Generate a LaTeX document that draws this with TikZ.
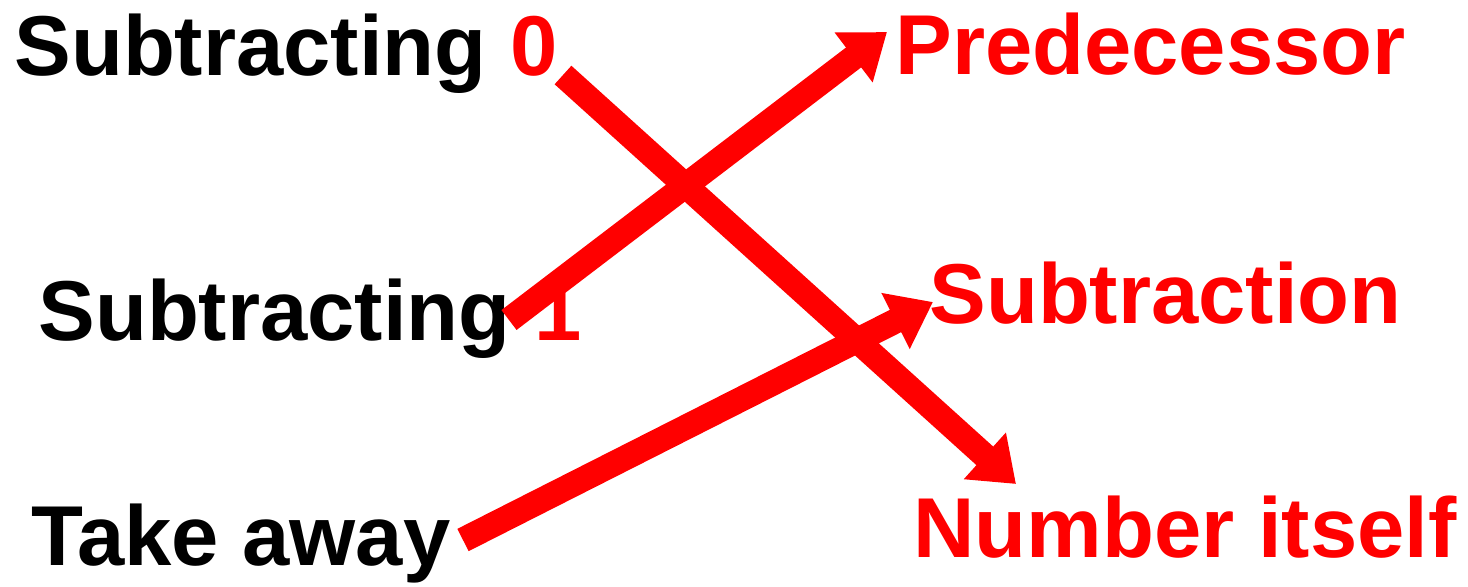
\documentclass[tikz,border=0pt]{standalone}
\usepackage{fontspec}
\setmainfont{Liberation Sans}
\usetikzlibrary{arrows.meta}
\definecolor{pptred}{RGB}{255,0,0}
\tikzset{
  term/.style={anchor=base west,inner sep=0pt,font=\fontsize{42.5}{46}\selectfont\bfseries},
  link/.style={pptred,line width=12.5pt,-{Triangle[length=21pt,width=30pt]}}
}
\begin{document}
\begin{tikzpicture}[x=0.5pt,y=-0.5pt]
  \useasboundingbox (0,0) rectangle (1468,586);
  % left column
  \node[term] (sub0) at (14,75) {Subtracting \textcolor{pptred}{0}};
  \node[term] (sub1) at (38,340) {Subtracting \textcolor{pptred}{1}};
  \node[term] (take) at (31,565) {Take away};
  % right column
  \node[term,pptred] (pred) at (895,74) {Predecessor};
  \node[term,pptred] (subtr) at (929,323) {Subtraction};
  \node[term,pptred] (numb) at (913,557) {Number itself};
  % line ends
  \coordinate (s0) at (563,75);
  \coordinate (s1) at (509,320);
  \coordinate (ta) at (463,540);
  \coordinate (tp) at (887,32);
  \coordinate (ts) at (933,302);
  \coordinate (tn) at (1016,484);
  \draw[link] (s0) -- (tn);
  \draw[link] (s1) -- (tp);
  \draw[link] (ta) -- (ts);
\end{tikzpicture}
\end{document}
